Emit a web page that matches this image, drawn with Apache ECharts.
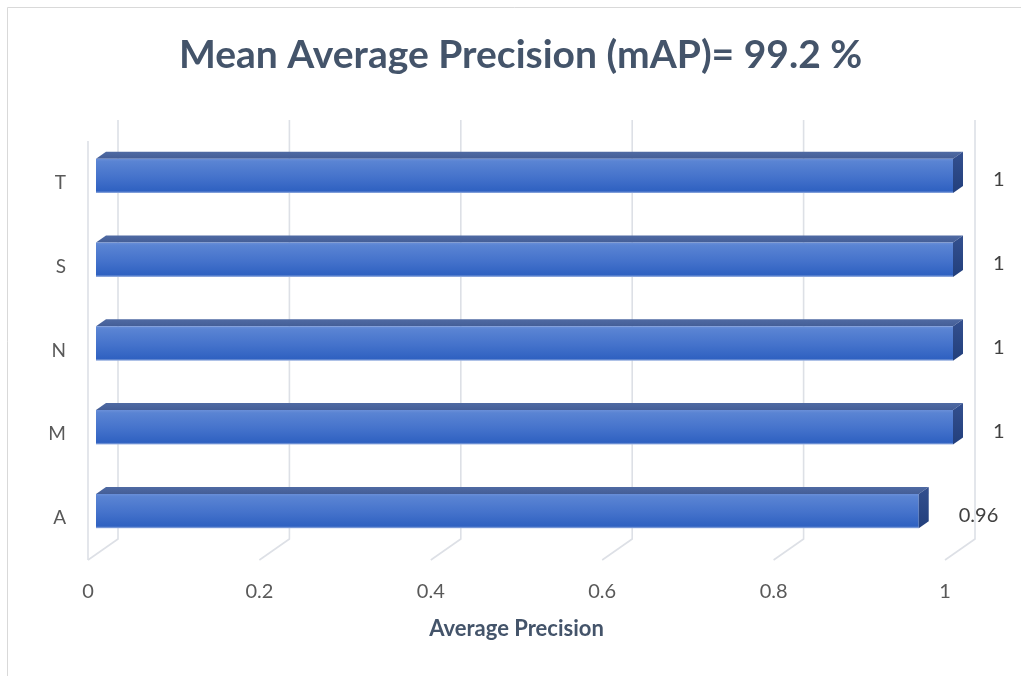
<!DOCTYPE html>
<html>
<head>
<meta charset="utf-8">
<title>Mean Average Precision</title>
<script src="https://cdn.jsdelivr.net/npm/echarts@6/dist/echarts.min.js"></script>
<style>
  html, body { margin: 0; padding: 0; background: #ffffff; }
  #chart { width: 1021px; height: 676px; }
</style>
</head>
<body>
<div id="chart"></div>
<script>
// Per-class average precision (bottom to top on the category axis)
const classes = ['A', 'M', 'N', 'S', 'T'];
const precision = [0.96, 1, 1, 1, 1];
const xTicks = [0, 0.2, 0.4, 0.6, 0.8, 1];

const titleText = 'Mean Average Precision (mAP)= 99.2 %';
const xAxisName = 'Average Precision';

const FONT = 'Lato, "Open Sans", sans-serif';
const SLATE = '#44546A';
const GREY = '#595959';

// pseudo-3D depth offsets (pixels)
const WALL_DX = 30, WALL_DY = -21;   // back wall relative to front plane
const BAR_FX = 8, BAR_FY = -7;       // bar front face relative to front plane
const BAR_DX = 10, BAR_DY = -7;      // bar thickness in depth

const chart = echarts.init(document.getElementById('chart'), null, { renderer: 'canvas' });

// floor + back wall gridlines, one per value tick
function renderWall(params, api) {
  const cs = params.coordSys;
  const v = api.value(0);
  const x = api.coord([v, 0])[0];
  const yb = cs.y + cs.height;
  const style = { stroke: '#DDE0E6', lineWidth: 1.6, fill: null };
  const children = [{
    type: 'polyline',
    shape: { points: [[x, yb], [x + WALL_DX, yb + WALL_DY], [x + WALL_DX, cs.y + WALL_DY]] },
    style: style
  }];
  if (v === 0) {
    children.push({
      type: 'line',
      shape: { x1: x, y1: yb, x2: x, y2: cs.y },
      style: style
    });
  }
  return { type: 'group', children: children };
}

// 3D box bar with value label
function renderBar(params, api) {
  const v = api.value(0);
  const cat = api.value(1);
  const p0 = api.coord([0, cat]);
  const p1 = api.coord([v, cat]);
  const h = api.size([0, 1])[1] * 0.41;
  const xl = p0[0] + BAR_FX;
  const xr = p1[0] + BAR_FX;
  const yt = p0[1] + BAR_FY - h / 2;
  const yb = yt + h;
  const label = String(precision[params.dataIndex]);
  return {
    type: 'group',
    children: [
      { // top face
        type: 'polygon',
        shape: { points: [[xl, yt], [xr, yt], [xr + BAR_DX, yt + BAR_DY], [xl + BAR_DX, yt + BAR_DY]] },
        style: {
          fill: new echarts.graphic.LinearGradient(0, 0, 0, 1, [
            { offset: 0, color: '#4F6AA3' },
            { offset: 1, color: '#445E97' }
          ])
        }
      },
      { // front face
        type: 'rect',
        shape: { x: xl, y: yt, width: xr - xl, height: h },
        style: {
          fill: new echarts.graphic.LinearGradient(0, 0, 0, 1, [
            { offset: 0, color: '#6A8FD8' },
            { offset: 0.08, color: '#5A84D3' },
            { offset: 0.55, color: '#4472CB' },
            { offset: 0.94, color: '#2F61C1' },
            { offset: 1, color: '#9DB4E2' }
          ])
        }
      },
      { // end face
        type: 'polygon',
        shape: { points: [[xr, yt], [xr + BAR_DX, yt + BAR_DY], [xr + BAR_DX, yb + BAR_DY], [xr, yb]] },
        style: {
          fill: new echarts.graphic.LinearGradient(0, 0, 0, 1, [
            { offset: 0, color: '#34508F' },
            { offset: 1, color: '#223F7C' }
          ])
        }
      },
      { // value label
        type: 'text',
        style: {
          text: label,
          x: xr + BAR_DX + 30,
          y: (yt + yb) / 2 + 4,
          align: 'left',
          verticalAlign: 'middle',
          fill: '#404040',
          font: '20px ' + FONT
        }
      }
    ]
  };
}

const option = {
  backgroundColor: '#ffffff',
  animation: false,
  title: {
    text: titleText,
    left: 174,
    top: 31,
    padding: 5,
    textStyle: { fontFamily: FONT, fontWeight: 'bold', fontSize: 39, color: SLATE }
  },
  graphic: [
    { type: 'line', shape: { x1: 7.5, y1: 7.5, x2: 1021, y2: 7.5 }, style: { stroke: '#D9D9D9', lineWidth: 1 }, silent: true },
    { type: 'line', shape: { x1: 7.5, y1: 7.5, x2: 7.5, y2: 676 }, style: { stroke: '#D9D9D9', lineWidth: 1 }, silent: true }
  ],
  grid: { left: 88, right: 76, top: 141, bottom: 116 },
  xAxis: {
    type: 'value',
    min: 0,
    max: 1,
    interval: 0.2,
    name: xAxisName,
    nameLocation: 'middle',
    nameGap: 58,
    nameTextStyle: { fontFamily: FONT, fontWeight: 'bold', fontSize: 22, color: SLATE },
    axisLine: { show: false },
    axisTick: { show: false },
    splitLine: { show: false },
    axisLabel: {
      margin: 22,
      fontFamily: FONT,
      fontSize: 20,
      color: GREY,
      formatter: v => String(Math.round(v * 10) / 10)
    }
  },
  yAxis: {
    type: 'category',
    data: classes,
    axisLine: { show: false },
    axisTick: { show: false },
    splitLine: { show: false },
    axisLabel: { margin: 22, fontFamily: FONT, fontSize: 19, color: GREY }
  },
  series: [
    {
      type: 'custom',
      name: 'wall',
      z: 1,
      silent: true,
      renderItem: renderWall,
      encode: { x: 0, y: 1 },
      data: xTicks.map(v => [v, 0])
    },
    {
      type: 'custom',
      name: 'AP',
      z: 2,
      renderItem: renderBar,
      encode: { x: 0, y: 1 },
      data: precision.map((v, i) => [v, i])
    }
  ]
};

chart.setOption(option);
</script>
</body>
</html>
